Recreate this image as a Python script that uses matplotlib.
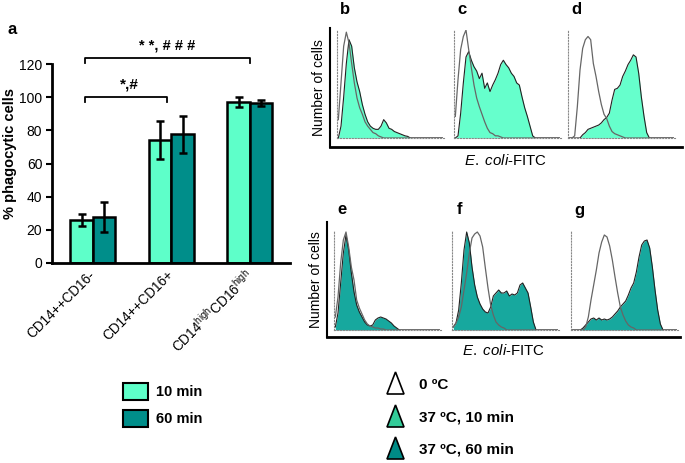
import matplotlib
matplotlib.use("Agg")
import matplotlib.pyplot as plt
from matplotlib.patches import Polygon, Rectangle
import numpy as np

plt.rcParams['font.family'] = ['Liberation Sans', 'DejaVu Sans']
plt.rcParams['mathtext.fontset'] = 'custom'
plt.rcParams['mathtext.rm'] = 'Liberation Sans'
plt.rcParams['mathtext.it'] = 'Liberation Sans:italic'

# panel a data
groups = ['CD14++CD16-', 'CD14++CD16+', r'CD14$^{\rm high}$CD16$^{\rm high}$']
min10 = [26, 74, 97]
min10_err = [3.5, 11.5, 3.2]
min60 = [27.5, 77.5, 96.5]
min60_err = [9, 11, 2]

# flow histograms, % of panel height per bin (40 bins each)
b_open = [17, 51, 85, 98, 88, 69, 51, 37, 28, 22, 15, 11, 8, 5, 4, 2, 1, 0, 0, 0,
          0, 0, 0, 0, 0, 0, 0, 0, 0, 0, 0, 0, 0, 0, 0, 0, 0, 0, 0, 0]
b_fill = [0, 11, 38, 69, 91, 85, 65, 52, 43, 31, 22, 15, 11, 9, 8, 8, 11, 17, 14, 9,
          8, 6, 5, 4, 3, 2, 1.5, 0, 0, 0, 0, 0, 0, 0, 0, 0, 0, 0, 0, 0]
c_open = [20, 54, 82, 94, 100, 82, 65, 49, 37, 29, 22, 15, 9, 5, 4, 2, 2, 1, 0, 0,
          0, 0, 0, 0, 0, 0, 0, 0, 0, 0, 0, 0, 0, 0, 0, 0, 0, 0, 0, 0]
c_fill = [0, 2, 23, 51, 75, 80, 72, 66, 62, 55, 60, 46, 51, 43, 49, 54, 60, 68, 72, 68,
          65, 60, 57, 51, 49, 38, 28, 20, 11, 2, 0, 0, 0, 0, 0, 0, 0, 0, 0, 0]
d_open = [0, 0, 2, 29, 63, 83, 91, 94, 91, 69, 57, 43, 31, 22, 18, 11, 6, 4, 3, 2,
          1, 0, 0, 0, 0, 0, 0, 0, 0, 0, 0, 0, 0, 0, 0, 0, 0, 0, 0, 0]
d_fill = [0, 0, 0, 0, 0, 3, 5, 8, 9, 10, 11, 12, 14, 17, 19, 23, 35, 45, 46, 49,
          57, 62, 68, 72, 77, 75, 60, 38, 20, 5, 0, 0, 0, 0, 0, 0, 0, 0, 0, 0]
e_open = [13, 33, 67, 90, 98, 83, 63, 50, 30, 22, 16, 10, 6, 4, 3, 2, 2, 1, 1, 0,
          0, 0, 0, 0, 0, 0, 0, 0, 0, 0, 0, 0, 0, 0, 0, 0, 0, 0, 0, 0]
e_fill = [3, 17, 47, 77, 95, 80, 57, 38, 25, 18, 13, 8, 5, 4, 5, 10, 12, 13, 12, 11,
          9, 7, 4, 2, 0, 0, 0, 0, 0, 0, 0, 0, 0, 0, 0, 0, 0, 0, 0, 0]
f_open = [3, 7, 13, 23, 40, 57, 77, 92, 96, 98, 94, 83, 62, 42, 25, 15, 8, 5, 3, 2,
          0, 0, 0, 0, 0, 0, 0, 0, 0, 0, 0, 0, 0, 0, 0, 0, 0, 0, 0, 0]
f_fill = [3, 7, 20, 47, 80, 98, 87, 63, 45, 33, 26, 21, 18, 17, 23, 34, 37, 40, 37, 37,
          39, 34, 36, 35, 37, 45, 47, 42, 37, 23, 8, 0, 0, 0, 0, 0, 0, 0, 0, 0]
g_open = [0, 0, 0, 0, 0, 3, 13, 30, 45, 60, 77, 88, 95, 93, 84, 70, 53, 37, 23, 15,
          9, 5, 3, 2, 0, 0, 0, 0, 0, 0, 0, 0, 0, 0, 0, 0, 0, 0, 0, 0]
g_fill = [0, 0, 0, 0, 2, 5, 8, 11, 12, 10, 12, 10, 11, 10, 11, 13, 16, 19, 23, 26,
          29, 35, 42, 47, 58, 73, 85, 89, 90, 82, 63, 40, 20, 6, 0, 0, 0, 0, 0, 0]

light = '#5effc9'
dark = '#008e8a'
top_fill = '#66ffcc'
low_fill = '#17a89e'
tri_10 = '#33cc99'
tri_60 = '#008b86'

W, H = 685, 463
fig = plt.figure(figsize=(6.85, 4.63), dpi=100)


def box(x0, y0, x1, y1):
    # pixel box (top-left origin) -> figure fraction
    return [x0 / W, 1 - y1 / H, (x1 - x0) / W, (y1 - y0) / H]


# ---- panel a ----
ax = fig.add_axes(box(52, 64, 290, 263))
x = np.arange(len(groups))
bw = 0.287
kw = dict(edgecolor='black', linewidth=1.8, zorder=2)
ekw = dict(ecolor='black', elinewidth=1.8, capsize=3, capthick=1.8)
ax.bar(x - bw / 2, min10, bw, color=light, yerr=min10_err, error_kw=ekw, **kw)
ax.bar(x + bw / 2, min60, bw, color=dark, yerr=min60_err, error_kw=ekw, **kw)
ax.set_xlim(-0.52, 2.51)
ax.set_ylim(0, 120)
ax.set_yticks(range(0, 121, 20))
ax.tick_params(axis='y', direction='out', length=4, width=1.5, labelsize=10, pad=3)
ax.tick_params(axis='x', length=0, pad=7)
ax.set_xticks(x)
ax.set_xticklabels(groups, rotation=45, ha='right', va='center',
                   rotation_mode='anchor', fontsize=9.8)
for s in ['top', 'right']:
    ax.spines[s].set_visible(False)
for s in ['left', 'bottom']:
    ax.spines[s].set_linewidth(2)
ax.set_ylabel('% phagocytic cells', fontsize=10.5, fontweight='bold')
ax.yaxis.set_label_coords(-0.148, 0.55)

# significance brackets
ax.plot([-0.1, -0.1, 0.94, 0.94], [97, 100, 100, 97], color='black', lw=1.3, clip_on=False)
ax.text(0.47, 103.5, '*,#', ha='center', va='bottom', fontsize=11, fontweight='bold')
ax.plot([-0.1, -0.1, 2.0, 2.0], [120.5, 123.5, 123.5, 120.5], color='black', lw=1.3,
        clip_on=False)
ax.text(0.95, 127, '* *, # # #', ha='center', va='bottom', fontsize=10.5, fontweight='bold')

# ---- flow panels ----
for y0, y1, fx0, fy1 in [(28, 147, 330, 682), (222, 337, 327, 680)]:
    fr = fig.add_axes(box(fx0, y0, fy1, y1))
    fr.patch.set_alpha(0)
    fr.set_xticks([])
    fr.set_yticks([])
    for s in ['top', 'right']:
        fr.spines[s].set_visible(False)
    fr.spines['left'].set_linewidth(1.5)
    fr.spines['bottom'].set_linewidth(2)
    fr.set_ylabel('Number of cells', fontsize=10, labelpad=3)
    fr.set_xlabel(r'$\it{E.}$ $\it{coli}$-FITC', fontsize=10.8, labelpad=4)

panels = [
    ('b', 337, 30, 138, b_open, b_fill, top_fill),
    ('c', 454, 30, 138, c_open, c_fill, top_fill),
    ('d', 568, 30, 138, d_open, d_fill, top_fill),
    ('e', 334, 230, 330, e_open, e_fill, low_fill),
    ('f', 452, 230, 330, f_open, f_fill, low_fill),
    ('g', 571, 230, 330, g_open, g_fill, low_fill),
]
for lab, px, ptop, pbase, op, fl, col in panels:
    h = fig.add_axes(box(px, ptop, px + 106.7, pbase))
    h.patch.set_alpha(0)
    xb = np.arange(len(op))
    h.fill_between(xb, fl, color=col, lw=0)
    h.plot(xb, fl, color='#222222', lw=0.8)
    h.plot(xb, op, color='#666666', lw=0.9)
    h.set_xlim(-0.5, 39.5)
    h.set_ylim(0, 100)
    h.set_xticks([])
    h.set_yticks([])
    for s in ['top', 'right']:
        h.spines[s].set_visible(False)
    for s in ['left', 'bottom']:
        h.spines[s].set_linestyle(':')
        h.spines[s].set_color('#888888')
        h.spines[s].set_linewidth(0.8)
    fig.text((px + 8) / W, 1 - (ptop - 20) / H, lab, fontsize=12, fontweight='bold',
             ha='center', va='center')

fig.text(12 / W, 1 - 30 / H, 'a', fontsize=12, fontweight='bold', ha='center', va='center')

# ---- legends (overlay in pixel coords) ----
ov = fig.add_axes([0, 0, 1, 1])
ov.set_xlim(0, W)
ov.set_ylim(H, 0)
ov.axis('off')
for yy, c, t in [(383, light, '10 min'), (410, dark, '60 min')]:
    ov.add_patch(Rectangle((123, yy), 25, 17, facecolor=c, edgecolor='black', lw=1.5))
    ov.text(156, yy + 9, t, fontsize=10.5, fontweight='bold', va='center')
for yy, c, t in [(372, 'white', '0 ºC'), (405, tri_10, '37 ºC, 10 min'),
                 (437, tri_60, '37 ºC, 60 min')]:
    ov.add_patch(Polygon([(387, yy + 22), (404, yy + 22), (395.5, yy)], closed=True,
                         facecolor=c, edgecolor='black', lw=1.2))
    ov.text(419, yy + 13, t, fontsize=11, fontweight='bold', va='center')

fig.savefig('out.png', dpi=100)
